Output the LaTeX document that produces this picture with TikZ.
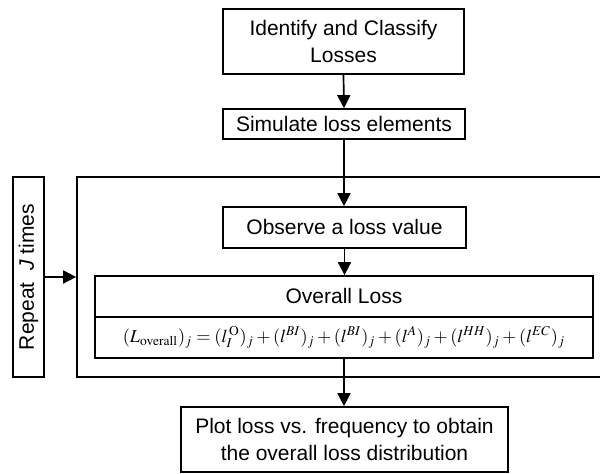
\documentclass[tikz,border=0pt]{standalone}
\usepackage{mathptmx}
\usepackage[no-math]{fontspec}
\setmainfont{Liberation Sans}
\usetikzlibrary{arrows.meta}

\tikzset{
  box/.style={draw, line width=0.85pt, align=center, inner sep=0pt,
              font=\fontsize{10.5}{13.5}\selectfont},
  flow/.style={line width=0.85pt, -{Triangle[length=6.5pt,width=6.5pt]}}
}

\begin{document}
\begin{tikzpicture}[x=0.5pt,y=-0.5pt]
  \useasboundingbox (0,0) rectangle (600,474);

  % repeated block (right side runs past the page edge)
  \node[box, minimum width=271.5pt, minimum height=100pt] (loop) at (348.5,277) {};
  \node[box, minimum width=15.5pt, minimum height=100pt] (rep) at (28.5,277)
        {\rotatebox{90}{Repeat \ \textit{J} times}};

  \node[box, minimum width=120.5pt, minimum height=32.5pt] (ident) at (343.5,41.5)
        {Identify and Classify\\Losses};
  \node[box, minimum width=121pt, minimum height=15pt] (sim) at (344,124)
        {Simulate loss elements};
  \node[box, minimum width=121.5pt, minimum height=20.5pt] (obs) at (344.5,227.5)
        {Observe a loss value};

  \node[box, minimum width=249pt, minimum height=20.5pt] (ovh) at (344,296.5)
        {Overall Loss};
  \node[box, minimum width=249pt, minimum height=20.5pt] (ovf) at (344,337.5)
        {\fontsize{9.1}{11}\selectfont
         $(L_{\mathrm{overall}})_j = (l_I^{\,\mathrm{O}})_j + (l^{BI})_j + (l^{BI})_j
          + (l^{A})_j + (l^{HH})_j + (l^{EC})_j$};

  \node[box, minimum width=163.5pt, minimum height=32.5pt] (plot) at (344.5,439.5)
        {Plot loss vs. frequency to obtain\\the overall loss distribution};

  % connectors
  \draw[flow] (ident.south) -- (sim.north);
  \draw[flow] (sim.south) -- (sim.south |- obs.north);
  \draw[flow] (obs.south) -- (obs.south |- ovh.north);
  \draw[flow] (ovf.south) -- (ovf.south |- plot.north);
  \draw[flow] (rep.east) -- (loop.west);
\end{tikzpicture}
\end{document}
